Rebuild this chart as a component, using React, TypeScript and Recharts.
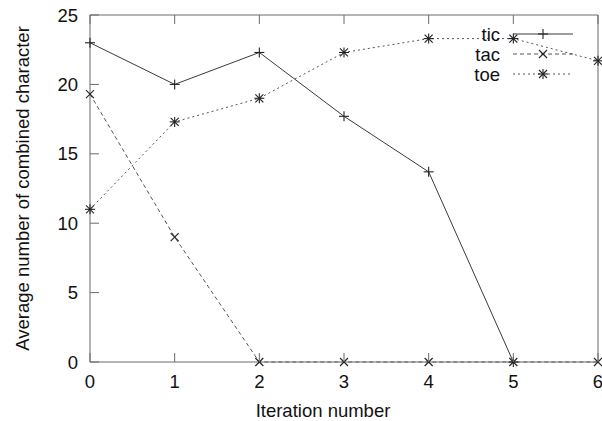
import { LineChart, Line, XAxis, YAxis, Legend } from 'recharts'

// iteration numbers on the x axis
const iterations = [0, 1, 2, 3, 4, 5, 6]
const ticValues = [23, 20, 22.3, 17.7, 13.7, 0, null]
const tacValues = [19.3, 9, 0, 0, 0, 0, 0]
const toeValues = [11, 17.3, 19, 22.3, 23.3, 23.3, 21.7]
const yTicks = [0, 5, 10, 15, 20, 25]

const FONT = '"Liberation Sans", Arial, Helvetica, sans-serif'
const FS = 18.5
const FRAME = '#6a6a6a'
const TICK_LEN = 9

const data = iterations.map((it, i) => ({
  it,
  tic: ticValues[i],
  tac: tacValues[i],
  toe: toeValues[i],
}))

type Shape = 'plus' | 'cross' | 'star'

function marker(shape: Shape, x: number, y: number, color: string, key?: string) {
  const s = 5
  const plus = (
    <>
      <line x1={x - s} y1={y} x2={x + s} y2={y} />
      <line x1={x} y1={y - s} x2={x} y2={y + s} />
    </>
  )
  const cross = (
    <>
      <line x1={x - s * 0.8} y1={y - s * 0.8} x2={x + s * 0.8} y2={y + s * 0.8} />
      <line x1={x - s * 0.8} y1={y + s * 0.8} x2={x + s * 0.8} y2={y - s * 0.8} />
    </>
  )
  return (
    <g key={key} stroke={color} strokeWidth={1.1} fill="none">
      {shape !== 'cross' && plus}
      {shape !== 'plus' && cross}
    </g>
  )
}

const SERIES = [
  { key: 'tic', shape: 'plus' as Shape, dash: undefined, color: '#3a3a3a' },
  { key: 'tac', shape: 'cross' as Shape, dash: '4 3', color: '#555' },
  { key: 'toe', shape: 'star' as Shape, dash: '2 3', color: '#555' },
]

const dotFor = (shape: Shape) => (props: any) => {
  const { cx, cy, index, value } = props
  if (cy == null || value == null || Number.isNaN(cy)) return <g key={`n${index}`} />
  return marker(shape, cx, cy, '#222', `${shape}${index}`)
}

const LeftTick = (props: any) => {
  const { x, y, payload } = props
  return (
    <g>
      <line x1={x} y1={y} x2={x + TICK_LEN} y2={y} stroke={FRAME} />
      <text x={x - 12} y={y + 6.5} textAnchor="end" fontSize={FS} fill="#111" fontFamily={FONT}>
        {payload.value}
      </text>
    </g>
  )
}

const RightTick = (props: any) => {
  const { x, y } = props
  return <line x1={x} y1={y} x2={x - TICK_LEN} y2={y} stroke={FRAME} />
}

const BottomTick = (props: any) => {
  const { x, y, payload } = props
  return (
    <g>
      <line x1={x} y1={y} x2={x} y2={y - TICK_LEN} stroke={FRAME} />
      <text x={x} y={y + 26} textAnchor="middle" fontSize={FS} fill="#111" fontFamily={FONT}>
        {payload.value}
      </text>
    </g>
  )
}

const TopTick = (props: any) => {
  const { x, y } = props
  return <line x1={x} y1={y} x2={x} y2={y + TICK_LEN} stroke={FRAME} />
}

function KeyBox() {
  const rows = [34, 54, 74]
  return (
    <svg width={602} height={100} style={{ position: 'absolute', left: 0, top: 0, pointerEvents: 'none' }}>
      {SERIES.map((s, i) => (
        <g key={s.key}>
          <text x={500} y={rows[i] + 6.5} textAnchor="end" fontSize={FS} fill="#111" fontFamily={FONT}>
            {s.key}
          </text>
          <line x1={513} y1={rows[i]} x2={573} y2={rows[i]} stroke={s.color} strokeDasharray={s.dash} />
          {marker(s.shape, 543, rows[i], '#222')}
        </g>
      ))}
    </svg>
  )
}

export default function App() {
  return (
    <div style={{ position: 'absolute', left: 0, top: 0, width: 602, height: 421, background: '#fff' }}>
      <LineChart width={602} height={421} data={data} margin={{ top: 0, right: 0, bottom: 0, left: 0 }}>
        <XAxis
          dataKey="it"
          type="number"
          domain={[0, 6]}
          ticks={iterations}
          height={59}
          tickSize={0}
          tickMargin={0}
          tick={<BottomTick />}
          axisLine={{ stroke: FRAME }}
          label={(p: any) => {
            const vb = p.viewBox
            return (
              <text x={323} y={vb.y + 55} textAnchor="middle" fontSize={FS} fill="#111" fontFamily={FONT}>
                Iteration number
              </text>
            )
          }}
        />
        <XAxis
          xAxisId="top"
          dataKey="it"
          type="number"
          orientation="top"
          domain={[0, 6]}
          ticks={iterations}
          height={15}
          tickSize={0}
          tickMargin={0}
          tick={<TopTick />}
          axisLine={{ stroke: FRAME }}
        />
        <YAxis
          type="number"
          domain={[0, 25]}
          ticks={yTicks}
          width={90}
          tickSize={0}
          tickMargin={0}
          tick={<LeftTick />}
          axisLine={{ stroke: FRAME }}
          label={(p: any) => {
            const vb = p.viewBox
            const cx = 22
            const cy = vb.y + vb.height / 2
            return (
              <text x={cx} y={cy} transform={`rotate(-90 ${cx} ${cy})`} textAnchor="middle" dominantBaseline="central" fontSize={FS} fill="#111" fontFamily={FONT}>
                Average number of combined character
              </text>
            )
          }}
        />
        <YAxis
          yAxisId="right"
          orientation="right"
          type="number"
          domain={[0, 25]}
          ticks={yTicks}
          width={4}
          tickSize={0}
          tickMargin={0}
          tick={<RightTick />}
          axisLine={{ stroke: FRAME }}
        />
        <Legend layout="vertical" align="center" verticalAlign="middle" wrapperStyle={{ position: 'absolute', left: 0, top: 0, width: 602, height: 100 }} content={() => <KeyBox />} />
        {SERIES.map((s) => (
          <Line
            key={s.key}
            dataKey={s.key}
            stroke={s.color}
            strokeWidth={1}
            strokeDasharray={s.dash}
            dot={dotFor(s.shape)}
            activeDot={false}
            isAnimationActive={false}
            connectNulls={false}
          />
        ))}
      </LineChart>
    </div>
  )
}
